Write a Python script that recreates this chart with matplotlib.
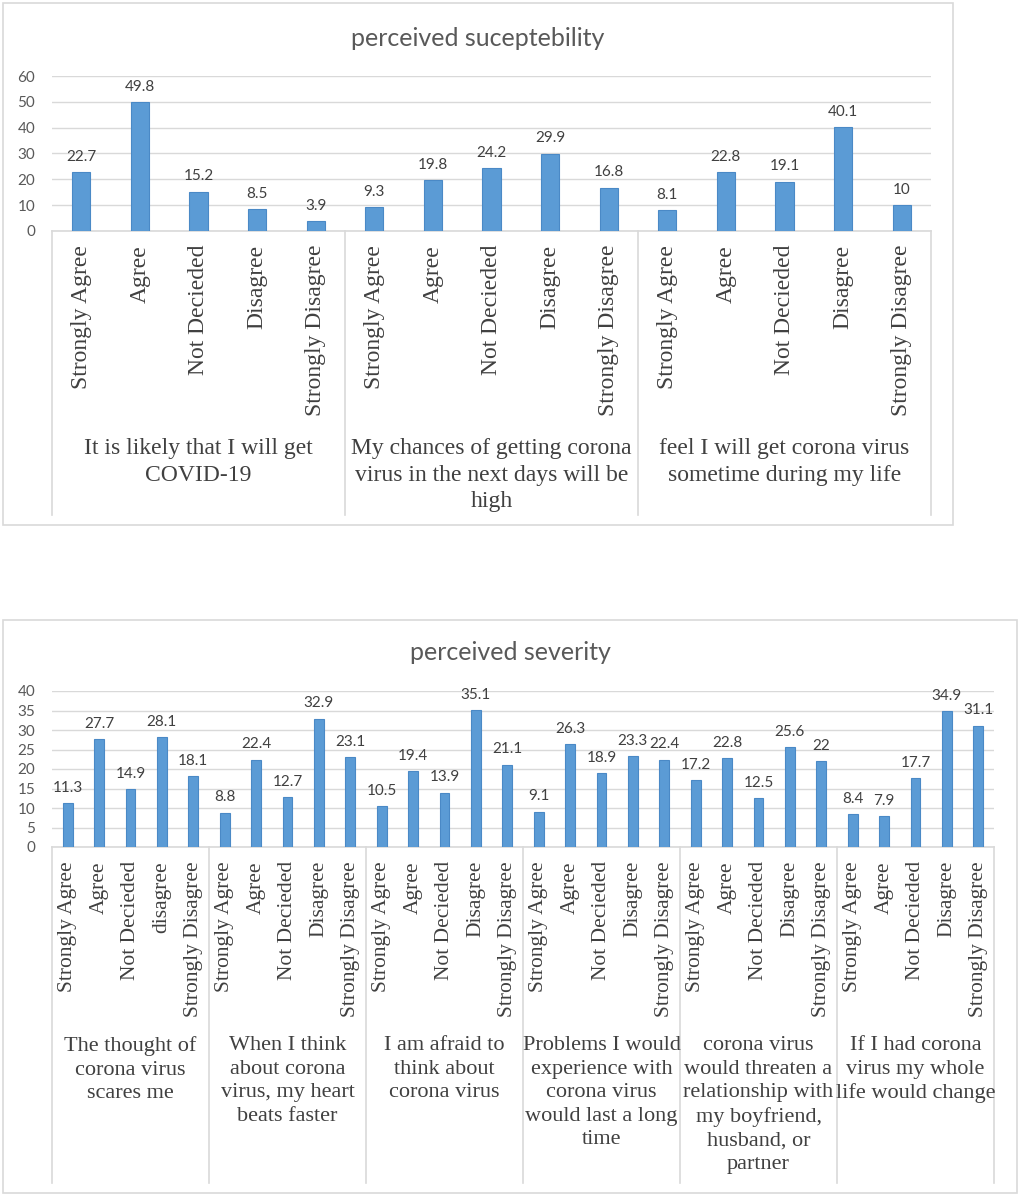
import matplotlib
matplotlib.use("Agg")
import matplotlib.pyplot as plt
from matplotlib.patches import Rectangle
from matplotlib.transforms import blended_transform_factory, offset_copy

W, H = 1020, 1197

answers = ["Strongly Agree", "Agree", "Not Decieded", "Disagree", "Strongly Disagree"]
answers_low = ["Strongly Agree", "Agree", "Not Decieded", "disagree", "Strongly Disagree"]

susc_groups = [
    "It is likely that I will get\nCOVID-19",
    "My chances of getting corona\nvirus in the next days will be\nhigh",
    "feel I will get corona virus\nsometime during my life",
]
susc_values = [
    [22.7, 49.8, 15.2, 8.5, 3.9],
    [9.3, 19.8, 24.2, 29.9, 16.8],
    [8.1, 22.8, 19.1, 40.1, 10],
]

sev_groups = [
    "The thought of\ncorona virus\nscares me",
    "When I think\nabout corona\nvirus, my heart\nbeats faster",
    "I am afraid to\nthink about\ncorona virus",
    "Problems I would\nexperience with\ncorona virus\nwould last a long\ntime",
    "corona virus\nwould threaten a\nrelationship with\nmy boyfriend,\nhusband, or\npartner",
    "If I had corona\nvirus my whole\nlife would change",
]
sev_values = [
    [11.3, 27.7, 14.9, 28.1, 18.1],
    [8.8, 22.4, 12.7, 32.9, 23.1],
    [10.5, 19.4, 13.9, 35.1, 21.1],
    [9.1, 26.3, 18.9, 23.3, 22.4],
    [17.2, 22.8, 12.5, 25.6, 22],
    [8.4, 7.9, 17.7, 34.9, 31.1],
]

BAR = "#5B9BD5"
EDGE = "#4A89C6"
GRID = "#D9D9D9"
TXT = "#404040"
SANS = ["Lato", "DejaVu Sans"]
SERIF = ["Liberation Serif", "DejaVu Serif"]

fig = plt.figure(figsize=(W / 100, H / 100), dpi=100)


def px_rect(x0, y0, x1, y1):
    # pixel box (top-left origin) -> figure fraction [l, b, w, h]
    return [x0 / W, 1 - y1 / H, (x1 - x0) / W, (y1 - y0) / H]


def chart(box, area, title, title_y, groups, values, cat_labels, ymax, ystep,
          sep_bottom, cat_size, grp_size, grp_top, grp_spacing):
    # outer border
    bx = px_rect(*box)
    fig.patches.append(Rectangle((bx[0], bx[1]), bx[2], bx[3], transform=fig.transFigure,
                                 fill=False, edgecolor=GRID, lw=1.2))
    fig.text((box[0] + box[2]) / 2 / W, 1 - title_y / H, title, ha="center", va="center",
             fontsize=18, color="#595959", family=SANS)

    ax = fig.add_axes(px_rect(*area))
    flat = [v for g in values for v in g]
    labels = [c for cl in cat_labels for c in cl]
    xs = list(range(len(flat)))
    ax.bar(xs, flat, width=0.31, color=BAR, edgecolor=EDGE, lw=0.8, zorder=3)
    for x, v in zip(xs, flat):
        ax.annotate(f"{v:g}", (x, v), xytext=(0, 6), textcoords="offset points",
                    ha="center", va="bottom", fontsize=11, color=TXT, family=SANS)
    ax.set_xlim(-0.5, len(flat) - 0.5)
    ax.set_ylim(0, ymax)
    ax.set_yticks(range(0, ymax + 1, ystep))
    ax.yaxis.grid(True, color=GRID, lw=1)
    ax.set_axisbelow(True)
    for s in ["top", "right", "left"]:
        ax.spines[s].set_visible(False)
    ax.spines["bottom"].set_color(GRID)
    ax.spines["bottom"].set_linewidth(1.2)
    ax.tick_params(axis="y", length=0, pad=12, labelsize=11, labelcolor="#595959")
    for t in ax.get_yticklabels():
        t.set_family(SANS)
    ax.set_xticks([])

    trans = blended_transform_factory(ax.transData, ax.transAxes)
    height_px = area[3] - area[1]
    # category labels, rotated
    cat_trans = offset_copy(trans, fig=fig, x=0, y=-14, units="dots")
    for x, lab in zip(xs, labels):
        ax.text(x, 0, lab, transform=cat_trans, rotation=90, ha="center", va="top",
                fontsize=cat_size, color=TXT, family=SERIF)
    # group separators
    n = len(values[0])
    low = -(sep_bottom - area[3]) / height_px
    for k in range(len(values) + 1):
        ax.plot([k * n - 0.5, k * n - 0.5], [0, low], transform=trans, color=GRID,
                lw=1.2, clip_on=False)
    # group labels
    for k, g in enumerate(groups):
        ax.text(k * n + (n - 1) / 2, -(grp_top - area[3]) / height_px, g, transform=trans,
                ha="center", va="top", fontsize=grp_size, color=TXT, family=SERIF,
                linespacing=grp_spacing)
    return ax


chart(box=(3, 3, 953, 525), area=(52, 76, 931, 231), title="perceived suceptebility",
      title_y=38, groups=susc_groups, values=susc_values, cat_labels=[answers] * 3,
      ymax=60, ystep=10, sep_bottom=515, cat_size=17, grp_size=17, grp_top=438,
      grp_spacing=1.35)

chart(box=(3, 620, 1017, 1193), area=(52, 691, 994, 847), title="perceived severity",
      title_y=652, groups=sev_groups, values=sev_values,
      cat_labels=[answers_low] + [answers] * 5,
      ymax=40, ystep=5, sep_bottom=1183, cat_size=15.5, grp_size=16, grp_top=1036,
      grp_spacing=1.33)

fig.savefig("out.png", dpi=100)
